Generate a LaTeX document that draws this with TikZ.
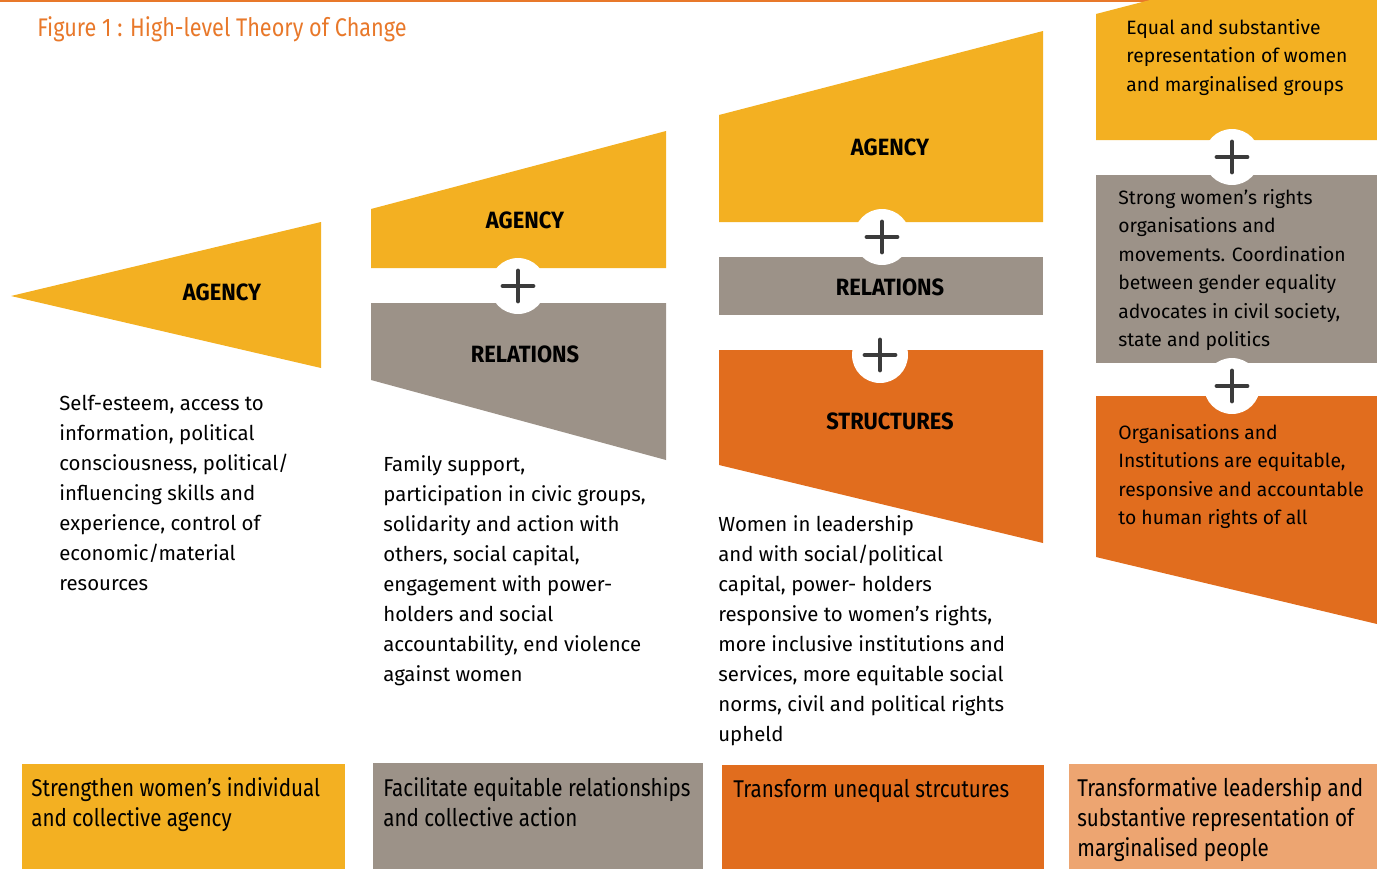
\documentclass[tikz,border=0pt]{standalone}
\usepackage{fontspec}
\setmainfont{Fira Sans}
\newfontfamily\condfont[FakeStretch=0.85]{Fira Sans}
\newfontfamily\stagefont[FakeStretch=0.93]{Fira Sans}
\usetikzlibrary{positioning}

\definecolor{tocyellow}{HTML}{F3B022}
\definecolor{tocgrey}{HTML}{9C9288}
\definecolor{tocorange}{HTML}{E16D1E}
\definecolor{toclight}{HTML}{EDA571}
\definecolor{toctitle}{HTML}{E8782A}
\definecolor{tocplus}{HTML}{3B3B3B}

\tikzset{
	stage/.style={inner sep=0, font=\stagefont\bfseries\fontsize{13.4}{16}\selectfont},
	blurb/.style={align=left, anchor=north west, inner sep=0, font=\fontsize{11.6}{17.1}\selectfont},
	sideblurb/.style={blurb, font=\fontsize{11}{16.2}\selectfont},
	goal/.style={align=left, anchor=north west, inner sep=0, font=\condfont\fontsize{13.8}{17}\selectfont},
	plusdisc/.style={circle, fill=white, minimum size=1.12cm, inner sep=0},
	plusbar/.style={tocplus, line width=2.8pt, line cap=round}
}

\begin{document}
\begin{tikzpicture}[x=0.02cm, y=-0.02cm]
		\useasboundingbox (0,0) rectangle (1377,869);
		\draw[toctitle, line width=1.2pt] (0,1) -- (1377,1);
		\node[anchor=base west, inner sep=0, text=toctitle, font=\condfont\fontsize{14.5}{16}\selectfont] (title) at (37,36) {Figure 1 : High-level Theory of Change};

		% agency only
		\fill[tocyellow] (11,296) -- (321,222) -- (321,368) -- cycle;
		\node[stage] (agency1) at (222,292) {AGENCY};
		\node[blurb] (text1) at (59,395) {Self-esteem, access to\\information, political\\consciousness, political/\\influencing skills and\\experience, control of\\economic/material\\resources};

		% agency + relations
		\fill[tocyellow] (371,268) -- (371,209) -- (666,131) -- (666,268) -- cycle;
		\fill[tocgrey] (371,303) -- (666,303) -- (666,460) -- (371,380) -- cycle;
		\node[stage] (agency2) at (525,220) {AGENCY};
		\node[stage] (relations2) at (525,354) {RELATIONS};
		\node[blurb] (text2) at (383,455) {Family support,\\participation in civic groups,\\solidarity and action with\\others, social capital,\\engagement with power-\\holders and social\\accountability, end violence\\against women};

		% agency + relations + structures
		\fill[tocyellow] (719,222) -- (719,115) -- (1043,31) -- (1043,222) -- cycle;
		\fill[tocgrey] (719,257) rectangle (1043,315);
		\fill[tocorange] (719,350) -- (1043,350) -- (1043,543) -- (719,465) -- cycle;
		\node[stage] (agency3) at (890,147) {AGENCY};
		\node[stage] (relations3) at (890,287) {RELATIONS};
		\node[stage] (structures3) at (890,421) {STRUCTURES};
		\node[blurb] (text3) at (718,515) {Women in leadership\\and with social/political\\capital, power- holders\\responsive to women’s rights,\\more inclusive institutions and\\services, more equitable social\\norms, civil and political rights\\upheld};

		% outcomes
		\fill[tocyellow] (1096,140) -- (1096,14) -- (1150,0) -- (1377,0) -- (1377,140) -- cycle;
		\fill[tocgrey] (1096,175) rectangle (1377,363);
		\fill[tocorange] (1096,396) -- (1377,396) -- (1377,624) -- (1096,557) -- cycle;
		\node[sideblurb] (outcome1) at (1126,19) {Equal and substantive\\representation of women\\and marginalised groups};
		\node[sideblurb] (outcome2) at (1118,189) {Strong women’s rights\\organisations and\\movements. Coordination\\between gender equality\\advocates in civil society,\\state and politics};
		\node[sideblurb] (outcome3) at (1118,424) {Organisations and\\Institutions are equitable,\\responsive and accountable\\to human rights of all};

		\foreach \px/\py [count=\i] in {518/286, 882/237, 880/355, 1232/157, 1232/386} {
			\node[plusdisc] (plus\i) at (\px,\py) {};
			\draw[plusbar] (\px-15,\py) -- (\px+15,\py) (\px,\py-15) -- (\px,\py+15);
		}

		% goals along the bottom
		\fill[tocyellow] (22,764) rectangle (345,869);
		\fill[tocgrey] (373,763) rectangle (703,869);
		\fill[tocorange] (722,765) rectangle (1044,869);
		\fill[toclight] (1069,764) rectangle (1377,869);
		\node[goal] (goal1) at (31,777) {Strengthen women’s individual\\and collective agency};
		\node[goal] (goal2) at (383,777) {Facilitate equitable relationships\\and collective action};
		\node[goal] (goal3) at (733,779) {Transform unequal strcutures};
		\node[goal] (goal4) at (1077,777) {Transformative leadership and\\substantive representation of\\marginalised people};
	\end{tikzpicture}
\end{document}
